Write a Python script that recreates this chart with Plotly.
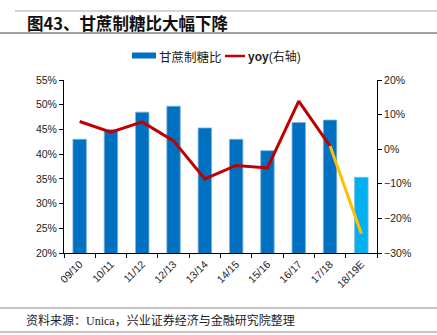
import plotly.graph_objects as go

categories = ["09/10", "10/11", "11/12", "12/13", "13/14", "14/15", "15/16", "16/17", "17/18", "18/19E"]
sugar_ratio = [43.0, 45.0, 48.5, 49.7, 45.3, 43.0, 40.7, 46.4, 46.9, 35.3]
yoy = [8.0, 4.9, 7.9, 2.4, -8.6, -4.7, -5.4, 13.9, 0.9]
yoy_forecast = [0.9, -24.4]

bar_colors = ["#0070C0"] * 9 + ["#00B0F0"]

W, H = 437, 335
L, R, T, B = 64, 60, 80, 82
pw, ph = W - L - R, H - T - B

def px(x):
    return (x - L) / pw

def py(y):
    return (H - B - y) / ph

fig = go.Figure()
fig.add_trace(go.Bar(
    x=categories, y=sugar_ratio, name="甘蔗制糖比",
    marker=dict(color=bar_colors, line=dict(color="#7FB3E0", width=0.8)),
    width=0.43, yaxis="y",
))
fig.add_trace(go.Scatter(
    x=categories[:9], y=yoy, name="yoy(右轴)", mode="lines",
    line=dict(color="#C00000", width=3), yaxis="y2",
))
fig.add_trace(go.Scatter(
    x=categories[8:10], y=yoy_forecast, name="yoy预测", mode="lines",
    line=dict(color="#FFC000", width=3), yaxis="y2",
))

tickfont = dict(family="Liberation Sans, Arial, sans-serif", size=10.5, color="#222222")

fig.update_layout(
    width=W, height=H,
    margin=dict(l=L, r=R, t=T, b=B),
    paper_bgcolor="white", plot_bgcolor="white",
    showlegend=False,
    xaxis=dict(type="category", tickangle=-45, tickfont=tickfont,
               showline=True, linecolor="#000000", linewidth=1,
               ticks="outside", tickson="boundaries", ticklen=4, tickcolor="#000000",
               showgrid=False, zeroline=False),
    yaxis=dict(range=[20, 55], dtick=5, ticksuffix="%", tickfont=tickfont,
               showline=True, linecolor="#000000", linewidth=1,
               ticks="outside", ticklen=4, tickcolor="#000000",
               showgrid=False, zeroline=False),
    yaxis2=dict(range=[-30, 20], dtick=10, ticksuffix="%", tickfont=tickfont,
                overlaying="y", side="right",
                showline=True, linecolor="#000000", linewidth=1,
                ticks="outside", ticklen=4, tickcolor="#000000",
                showgrid=False, zeroline=False),
    bargap=0.57,
)

shapes = [
    dict(type="line", xref="paper", yref="paper", x0=px(15), x1=px(437), y0=py(11), y1=py(11),
         line=dict(color="#AAAAAA", width=1)),
    dict(type="line", xref="paper", yref="paper", x0=px(0), x1=px(437), y0=py(33), y1=py(33),
         line=dict(color="#444444", width=1)),
    dict(type="line", xref="paper", yref="paper", x0=px(0), x1=px(437), y0=py(308), y1=py(308),
         line=dict(color="#888888", width=1)),
    dict(type="line", xref="paper", yref="paper", x0=px(0), x1=px(437), y0=py(332), y1=py(332),
         line=dict(color="#888888", width=1)),
    # legend swatches
    dict(type="rect", xref="paper", yref="paper", x0=px(132), x1=px(156), y0=py(58.5), y1=py(52.5),
         fillcolor="#0070C0", line=dict(width=0)),
    dict(type="line", xref="paper", yref="paper", x0=px(225), x1=px(245), y0=py(56), y1=py(56),
         line=dict(color="#C00000", width=2.5)),
]
fig.update_layout(shapes=shapes)

fig.add_annotation(xref="paper", yref="paper", x=px(157), y=py(56), xanchor="left", yanchor="middle",
                   text="甘蔗制糖比", showarrow=False,
                   font=dict(family="Noto Sans CJK SC, sans-serif", size=12.5, color="#222222"))
fig.add_annotation(xref="paper", yref="paper", x=px(246), y=py(56), xanchor="left", yanchor="middle",
                   text="<b>yoy</b>(右轴)", showarrow=False,
                   font=dict(family="Liberation Sans, Noto Sans CJK SC, sans-serif", size=12, color="#222222"))
fig.add_annotation(xref="paper", yref="paper", x=px(25), y=py(23), xanchor="left", yanchor="middle",
                   text="<b>图43、甘蔗制糖比大幅下降</b>", showarrow=False,
                   font=dict(family="Noto Sans CJK SC, sans-serif", size=16.5, color="#111111"))
fig.add_annotation(xref="paper", yref="paper", x=px(24), y=py(320), xanchor="left", yanchor="middle",
                   text="资料来源：Unica，兴业证券经济与金融研究院整理", showarrow=False,
                   font=dict(family="Liberation Serif, Noto Sans CJK SC, serif", size=12, color="#222222"))

fig.write_html("out.html")
